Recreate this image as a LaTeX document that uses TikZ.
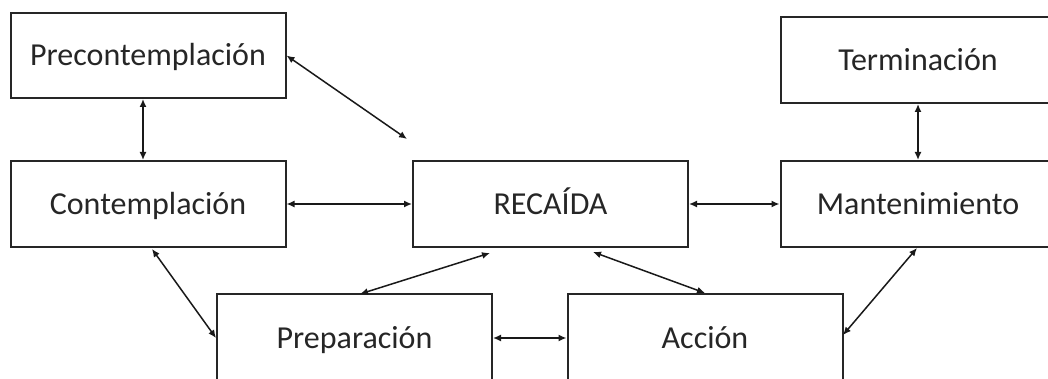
\documentclass[tikz,border=0pt]{standalone}
\usepackage{fontspec}
\setmainfont{Carlito}
\usetikzlibrary{arrows.meta,calc}
\begin{document}
\begin{tikzpicture}[x=0.5pt,y=-0.5pt,
  stage/.style={draw=black!85, line width=1pt, minimum width=137.5pt, minimum height=43pt,
    inner sep=0pt, text height=11.5pt, text depth=1.4pt,
    font=\fontsize{16}{19}\selectfont, text=black!85},
  link/.style={line width=0.75pt, draw=black!90, {Latex[length=4pt,width=3.5pt]}-{Latex[length=4pt,width=3.5pt]}}]
\useasboundingbox (0,0) rectangle (1048,379);
\clip (0,0) rectangle (1048,379);
\node[stage, minimum height=42.5pt] (pre) at (148,55.5) {Precontemplación};
\node[stage] (con) at (148,204) {Contemplación};
\node[stage] (rec) at (550.5,204) {RECAÍDA};
\node[stage] (ter) at (918,60) {Terminación};
\node[stage] (man) at (918,204) {Mantenimiento};
\node[stage, minimum height=44pt] (pre2) at (354.5,338) {Preparación};
\node[stage, minimum height=44pt] (acc) at (705,338) {Acción};
\coordinate (free) at (407,139);
\coordinate (recA) at (490,253);
\coordinate (recB) at (593,252);
\coordinate (prepN) at (360,294);
\coordinate (manS) at (917,248);
\coordinate (accE) at (843,335);
\coordinate (conS) at (152,249);
\draw[link] (pre.east) -- (free);
\draw[link] ([xshift=-2.5pt]pre.south) -- ([xshift=-2.5pt]con.north);
\draw[link] (con.east) -- (rec.west);
\draw[link] (rec.east) -- (man.west);
\draw[link] (ter.south) -- (man.south |- man.north);
\draw[link] (conS) -- (pre2.west);
\draw[link] (prepN) -- (recA);
\draw[link] (recB) -- (acc.north);
\draw[link] (pre2.east) -- (acc.west);
\draw[link] (manS) -- (accE);
\end{tikzpicture}
\end{document}
